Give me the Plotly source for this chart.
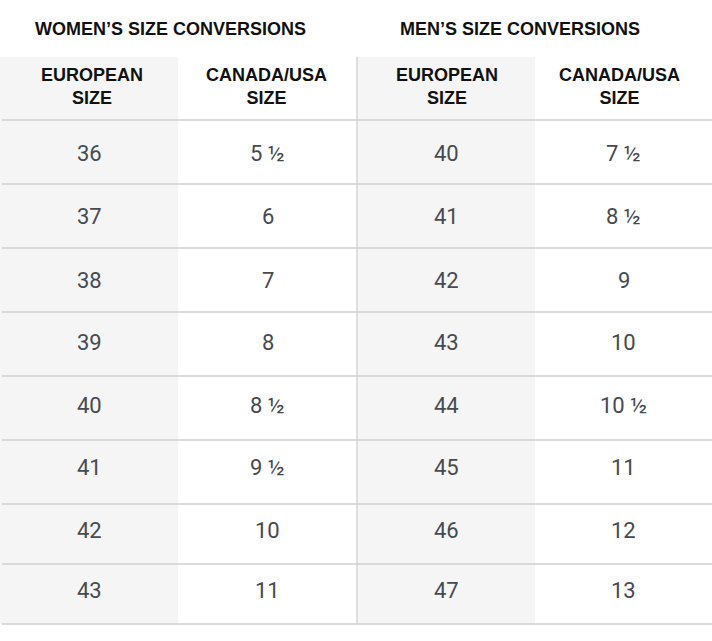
import plotly.graph_objects as go

# ---- data ----
section_titles = ["WOMEN’S SIZE CONVERSIONS", "MEN’S SIZE CONVERSIONS"]
column_headers = ["EUROPEAN<br>SIZE", "CANADA/USA<br>SIZE", "EUROPEAN<br>SIZE", "CANADA/USA<br>SIZE"]
women_eu = ["36", "37", "38", "39", "40", "41", "42", "43"]
women_us = ["5 ½", "6", "7", "8", "8 ½", "9 ½", "10", "11"]
men_eu = ["40", "41", "42", "43", "44", "45", "46", "47"]
men_us = ["7 ½", "8 ½", "9", "10", "10 ½", "11", "12", "13"]

# ---- layout constants (pixel-like axis units) ----
W, H = 712, 641
col_edges = [0, 178, 357, 535, 712]
row_edges = [120, 184, 248, 312, 376, 440, 504, 564, 624]
text_y = [153, 216, 280, 342, 405, 467, 530, 590]
title_x = [170, 520]
header_x = [92, 266, 447, 619]
header_top = 57
title_y = 29
header_y = 86
grey = "#f5f5f5"
line_col = "#cfcfcf"
num_col = "#464a51"

columns = [women_eu, women_us, men_eu, men_us]

fig = go.Figure()
shapes = []
annotations = []

# grey European columns
for ci in (0, 2):
    shapes.append(dict(type="rect", x0=col_edges[ci], x1=col_edges[ci + 1],
                       y0=header_top, y1=row_edges[-1], fillcolor=grey,
                       line=dict(width=0), layer="below"))

# horizontal lines
for y in row_edges:
    shapes.append(dict(type="line", x0=2, x1=W, y0=y, y1=y,
                       line=dict(color=line_col, width=1.3)))
# vertical separator
shapes.append(dict(type="line", x0=col_edges[2], x1=col_edges[2], y0=header_top,
                   y1=row_edges[-1], line=dict(color=line_col, width=1.3)))

# section titles
for si, t in enumerate(section_titles):
    annotations.append(dict(x=title_x[si], y=title_y, text="<b>" + t + "</b>", showarrow=False,
                            font=dict(family="Liberation Sans, Arial", size=18, color="#111111"),
                            xanchor="center", yanchor="middle"))

# column headers
for ci, h in enumerate(column_headers):
    annotations.append(dict(x=header_x[ci], y=header_y,
                            text="<b>" + h.replace("<br>", "</b><br><b>") + "</b>",
                            showarrow=False,
                            font=dict(family="Liberation Sans, Arial", size=18, color="#111111"),
                            xanchor="center", yanchor="middle"))

# cells
for ci, col in enumerate(columns):
    xc = (col_edges[ci] + col_edges[ci + 1]) / 2
    for ri, v in enumerate(col):
        annotations.append(dict(x=xc, y=text_y[ri], text=v, showarrow=False,
                                font=dict(family="Roboto", size=22, color=num_col),
                                xanchor="center", yanchor="middle"))

fig.update_layout(
    width=W, height=H,
    margin=dict(l=0, r=0, t=0, b=0),
    paper_bgcolor="white", plot_bgcolor="white",
    xaxis=dict(range=[0, W], visible=False, fixedrange=True),
    yaxis=dict(range=[H, 0], visible=False, fixedrange=True),
    shapes=shapes, annotations=annotations,
    showlegend=False,
)

fig.write_html(
    "out.html",
    config={"displayModeBar": False},
    post_script="document.body.style.margin='0';document.body.style.overflow='hidden';",
)
